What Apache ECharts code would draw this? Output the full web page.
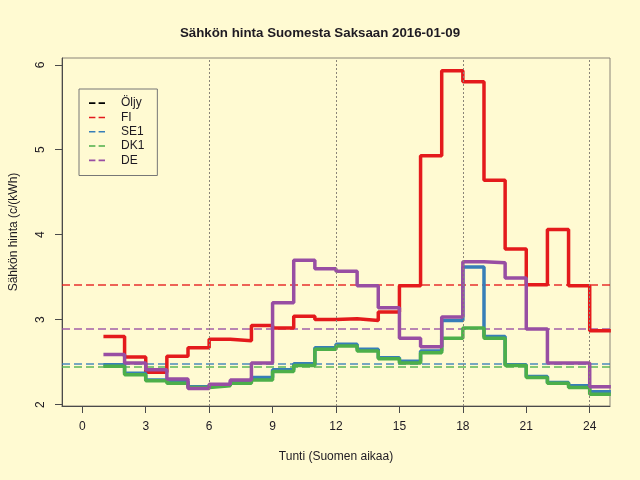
<!DOCTYPE html>
<html>
<head>
<meta charset="utf-8">
<script src="https://cdn.jsdelivr.net/npm/echarts@6/dist/echarts.min.js"></script>
<style>
  html, body { margin: 0; padding: 0; background: #fffad2; }
  #chart { width: 640px; height: 480px; }
</style>
</head>
<body>
<div id="chart"></div>
<script>
// tunnit 1..24, jokainen arvo kattaa välin [h, h+1]
var hours = [1, 2, 3, 4, 5, 6, 7, 8, 9, 10, 11, 12, 13, 14, 15, 16, 17, 18, 19, 20, 21, 22, 23, 24];
var fi = [2.80, 2.56, 2.38, 2.57, 2.67, 2.77, 2.75, 2.93, 2.90, 3.04, 3.00, 3.01,
          2.99, 3.09, 3.40, 4.93, 5.93, 5.80, 4.64, 3.83, 3.41, 4.06, 3.40, 2.87];
var se1 = [2.47, 2.37, 2.29, 2.27, 2.21, 2.23, 2.27, 2.32, 2.41, 2.48, 2.67, 2.71,
           2.65, 2.55, 2.51, 2.63, 2.99, 3.62, 2.80, 2.47, 2.33, 2.26, 2.22, 2.15];
var dk1 = [2.45, 2.35, 2.28, 2.25, 2.20, 2.22, 2.25, 2.29, 2.39, 2.46, 2.65, 2.69,
           2.63, 2.54, 2.49, 2.61, 2.78, 2.90, 2.78, 2.46, 2.32, 2.25, 2.20, 2.12];
var de = [2.59, 2.49, 2.41, 2.30, 2.19, 2.24, 2.29, 2.49, 3.20, 3.70, 3.60, 3.57,
          3.40, 3.14, 2.78, 2.68, 3.03, 3.68, 3.67, 3.49, 2.89, 2.49, 2.49, 2.21];
// päivän keskiarvot (katkoviivat)
var avgFI = 3.41, avgSE1 = 2.48, avgDK1 = 2.44, avgDE = 2.89;
var xTicks = [0, 3, 6, 9, 12, 15, 18, 21, 24];
var yTicks = [2, 3, 4, 5, 6];
var vLines = [6, 12, 18, 24];

var colors = { oil: "#000000", fi: "#e41a1c", se1: "#377eb8", dk1: "#4daf4a", de: "#984ea3" };

function steps(vals) {
  var pts = hours.map(function (h, i) { return [h, vals[i]]; });
  pts.push([hours[hours.length - 1] + 1, vals[vals.length - 1]]);
  return pts;
}

function priceSeries(name, vals, avg, color) {
  return {
    name: name,
    type: "line",
    step: "end",
    data: steps(vals),
    showSymbol: false,
    color: color,
    lineStyle: { width: 3.5, color: color },
    z: 3,
    markLine: {
      silent: true,
      symbol: "none",
      label: { show: false },
      lineStyle: { type: [8, 4], width: 1.6, color: color, opacity: 0.9 },
      data: [{ yAxis: avg }],
      z: 2
    }
  };
}

var font = "Liberation Sans, Arial, sans-serif";
var myChart = echarts.init(document.getElementById("chart"));

myChart.setOption({
  backgroundColor: "#fffad2",
  animation: false,
  title: {
    text: "Sähkön hinta Suomesta Saksaan 2016-01-09",
    left: "center",
    top: 22,
    textStyle: { fontFamily: font, fontSize: 13.3, fontWeight: "bold", color: "#1e1a22" }
  },
  legend: {
    orient: "vertical",
    left: 79,
    top: 89,
    selectedMode: false,
    data: ["Öljy", "FI", "SE1", "DK1", "DE"],
    icon: "path://M0,0h8v2h-8z M12,0h8v2h-8z",
    itemWidth: 20,
    itemHeight: 1.6,
    itemGap: 0,
    padding: [7, 13, 8, 10],
    borderColor: "#777",
    borderWidth: 1,
    borderRadius: 0,
    textStyle: { fontFamily: font, fontSize: 12, color: "#1e1a22", lineHeight: 14.3, padding: [0, 0, 0, 9] }
  },
  grid: { left: 59, right: 30, top: 58, bottom: 74, show: true, borderColor: "#8a8478", borderWidth: 1, backgroundColor: "transparent" },
  xAxis: {
    type: "value",
    min: -0.96,
    max: 24.96,
    name: "Tunti (Suomen aikaa)",
    nameLocation: "middle",
    nameGap: 45,
    nameTextStyle: { fontFamily: font, fontSize: 12, color: "#1e1a22" },
    axisLine: { show: true, onZero: false, lineStyle: { color: "#4a4a4a", width: 1 } },
    axisTick: { show: true, length: 7, inside: false, customValues: xTicks, lineStyle: { color: "#4a4a4a" } },
    axisLabel: { customValues: xTicks, margin: 15, fontFamily: font, fontSize: 12, color: "#1e1a22" },
    splitLine: { show: false }
  },
  yAxis: {
    type: "value",
    min: 1.983,
    max: 6.08,
    name: "Sähkön hinta (c/(kWh)",
    nameLocation: "middle",
    nameGap: 42,
    nameTextStyle: { fontFamily: font, fontSize: 12, color: "#1e1a22" },
    axisLine: { show: true, onZero: false, lineStyle: { color: "#4a4a4a", width: 1 } },
    axisTick: { show: true, length: 7, inside: false, customValues: yTicks, lineStyle: { color: "#4a4a4a" } },
    axisLabel: { customValues: yTicks, rotate: 90, margin: 15, fontFamily: font, fontSize: 12, color: "#1e1a22" },
    splitLine: { show: false }
  },
  series: [
    {
      name: "Öljy",
      type: "line",
      data: [],
      color: colors.oil,
      markLine: {
        silent: true,
        symbol: "none",
        label: { show: false },
        lineStyle: { type: [2, 2], width: 1, color: "#8a8478" },
        data: vLines.map(function (v) { return { xAxis: v }; })
      }
    },
    priceSeries("FI", fi, avgFI, colors.fi),
    priceSeries("SE1", se1, avgSE1, colors.se1),
    priceSeries("DK1", dk1, avgDK1, colors.dk1),
    priceSeries("DE", de, avgDE, colors.de)
  ]
});
</script>
</body>
</html>
